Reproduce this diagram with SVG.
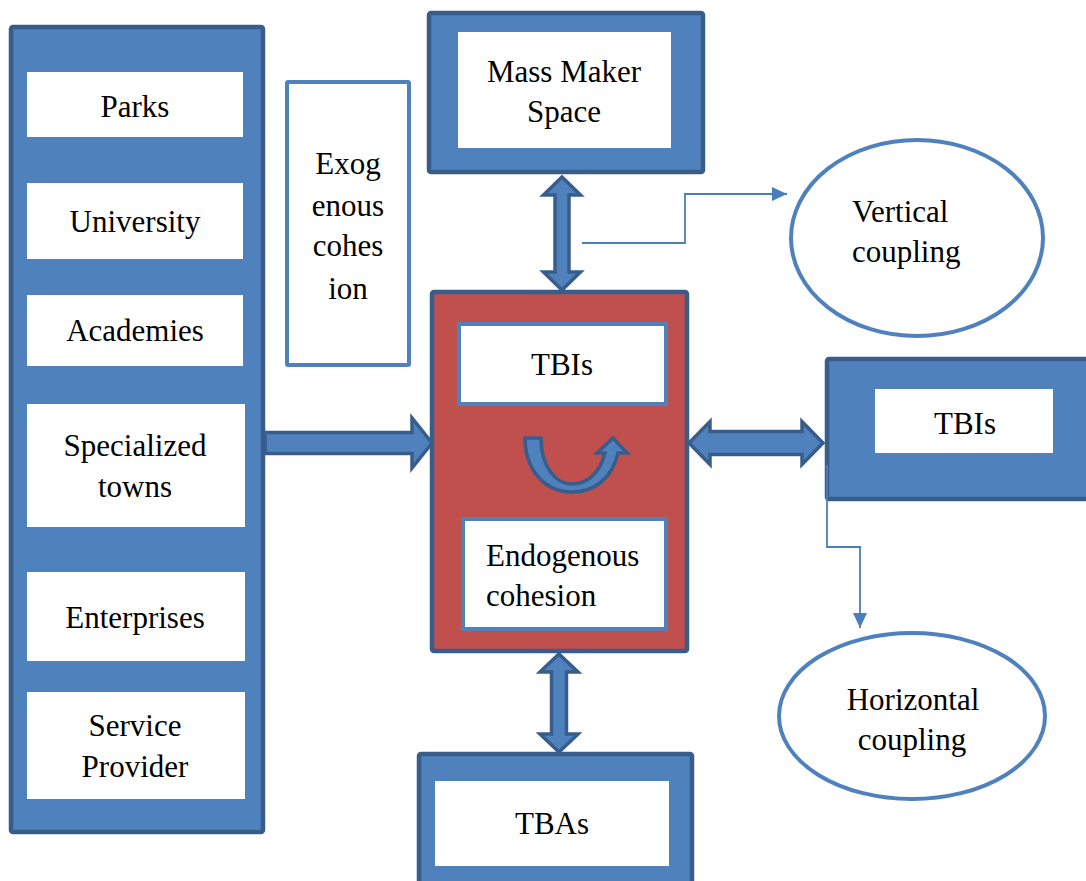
<svg xmlns="http://www.w3.org/2000/svg" width="1086" height="881" viewBox="0 0 1086 881">
  <style>
    .frame { fill: #4f81bd; stroke: #385d8a; stroke-width: 4.5; }
    .card { fill: #ffffff; stroke: none; }
    .inbox { fill: #ffffff; stroke: #4f81bd; stroke-width: 4; }
    .core { fill: #c0504d; stroke: #385d8a; stroke-width: 4.5; }
    .oval { fill: #ffffff; stroke: #4f81bd; stroke-width: 4; }
    .block { fill: #4f81bd; stroke: #385d8a; stroke-width: 3.5; stroke-linejoin: miter; }
    .link { fill: none; stroke: #4a7ebb; stroke-width: 1.8; }
    text { font-family: "Liberation Serif", "Times New Roman", serif; font-size: 31px; fill: #000000; }
    .c { text-anchor: middle; }
  </style>
  <defs>
    <marker id="tip" markerUnits="userSpaceOnUse" markerWidth="16" markerHeight="16" refX="15" refY="7" orient="auto">
      <path d="M0,0 L15,7 L0,14 Z" fill="#4a7ebb"/>
    </marker>
  </defs>

  <!-- left column of actors -->
  <g id="actors">
    <rect class="frame" x="11" y="27" width="252" height="805" rx="2"/>
    <rect class="card" x="27" y="72" width="216" height="65"/>
    <rect class="card" x="27" y="183" width="216" height="76"/>
    <rect class="card" x="27" y="295" width="216" height="71"/>
    <rect class="card" x="27" y="404" width="218" height="123"/>
    <rect class="card" x="27" y="572" width="218" height="89"/>
    <rect class="card" x="27" y="692" width="218" height="107"/>
    <text class="c" x="135" y="117">Parks</text>
    <text class="c" x="135" y="232">University</text>
    <text class="c" x="135" y="341">Academies</text>
    <text class="c" x="135" y="456">Specialized</text>
    <text class="c" x="135" y="497">towns</text>
    <text class="c" x="135" y="628">Enterprises</text>
    <text class="c" x="135" y="736">Service</text>
    <text class="c" x="135" y="777">Provider</text>
  </g>

  <g id="exogenous">
    <rect class="inbox" x="287" y="82" width="122" height="283" rx="1"/>
    <text class="c" x="348" y="174">Exog</text>
    <text class="c" x="348" y="216">enous</text>
    <text class="c" x="348" y="256">cohes</text>
    <text class="c" x="348" y="299">ion</text>
  </g>

  <g id="maker-space">
    <rect class="frame" x="429" y="13" width="274" height="159" rx="2"/>
    <rect class="card" x="458" y="32" width="213" height="116"/>
    <text class="c" x="564" y="82">Mass Maker</text>
    <text class="c" x="564" y="122">Space</text>
  </g>

  <g id="core">
    <rect class="core" x="432" y="292" width="255" height="359" rx="2"/>
    <rect class="inbox" x="459" y="324" width="207" height="80"/>
    <text class="c" x="562" y="375">TBIs</text>
    <rect class="inbox" x="463" y="519" width="203" height="110"/>
    <text x="486" y="566">Endogenous</text>
    <text x="486" y="606">cohesion</text>
    <!-- circular cohesion arrow -->
    <path class="block" stroke-width="3" d="M525,438 L541,438 C541,466 555,484 572,484 C588,484 600,472 605,453 L597,453 L613,438 L627,453 L618,453 C612,478 595,492 572,492 C545,492 525,470 525,438 Z"/>
  </g>

  <g id="tbis-right">
    <rect class="frame" x="827" y="359" width="270" height="140" rx="2"/>
    <rect class="card" x="875" y="389" width="178" height="64"/>
    <text class="c" x="965" y="434">TBIs</text>
  </g>

  <g id="tbas">
    <rect class="frame" x="419" y="754" width="273" height="140" rx="2"/>
    <rect class="card" x="435" y="781" width="234" height="85"/>
    <text class="c" x="552" y="834">TBAs</text>
  </g>

  <g id="vertical-coupling">
    <ellipse class="oval" cx="917" cy="238" rx="126" ry="98"/>
    <text x="852" y="222">Vertical</text>
    <text x="852" y="262">coupling</text>
  </g>

  <g id="horizontal-coupling">
    <ellipse class="oval" cx="912" cy="716" rx="133" ry="83"/>
    <text class="c" x="913" y="710">Horizontal</text>
    <text class="c" x="912" y="750">coupling</text>
  </g>

  <g id="connectors">
    <!-- block arrows -->
    <polygon class="block" points="265,432.5 412,432.5 412,418 432,443 412,468 412,453.5 265,453.5"/>
    <polygon class="block" points="562,177 580.5,195 569,195 569,272 580.5,272 562,290 543.5,272 555,272 555,195 543.5,195"/>
    <polygon class="block" points="559,654 578,672 566.5,672 566.5,734 578,734 559,752 540,734 551.5,734 551.5,672 540,672"/>
    <polygon class="block" points="689,443 710,421.5 710,431.5 802,431.5 802,421.5 823,443 802,464.5 802,454.5 710,454.5 710,464.5"/>
    <!-- coupling links -->
    <path class="link" d="M582,243 H685 V194 H787" marker-end="url(#tip)"/>
    <path class="link" d="M827,465 V547 H860 V628" marker-end="url(#tip)"/>
  </g>
</svg>
